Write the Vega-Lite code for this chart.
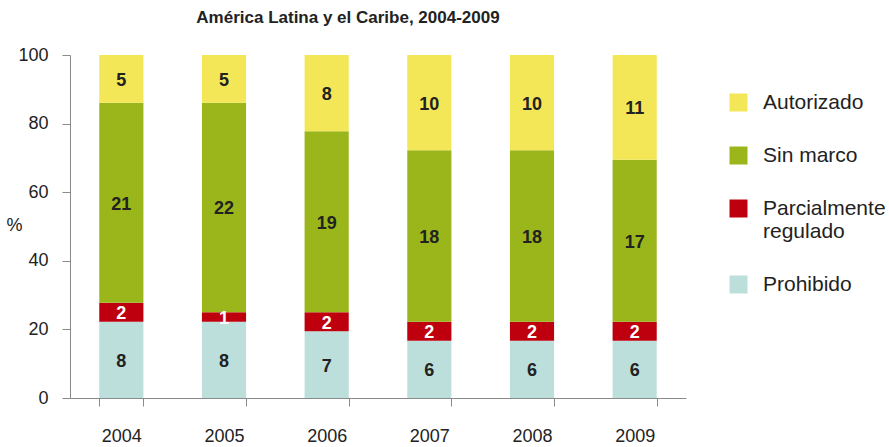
{
  "$schema": "https://vega.github.io/schema/vega-lite/v6.json",
  "width": 616,
  "height": 343,
  "autosize": {"type": "none"},
  "padding": {"left": 70, "top": 55, "right": 203, "bottom": 49},
  "background": "white",
  "config": {
    "view": {"stroke": null},
    "font": "Liberation Sans, Arial, sans-serif"
  },
  "title": {
    "text": "América Latina y el Caribe, 2004-2009",
    "fontSize": 17,
    "fontWeight": "bold",
    "color": "#222222",
    "anchor": "middle",
    "dx": -30,
    "offset": 19
  },
  "data": {
    "values": [
      {"year": "2004", "status": "Prohibido", "n": 8, "order": 1},
      {"year": "2004", "status": "Parcialmente regulado", "n": 2, "order": 2},
      {"year": "2004", "status": "Sin marco", "n": 21, "order": 3},
      {"year": "2004", "status": "Autorizado", "n": 5, "order": 4},
      {"year": "2005", "status": "Prohibido", "n": 8, "order": 1},
      {"year": "2005", "status": "Parcialmente regulado", "n": 1, "order": 2},
      {"year": "2005", "status": "Sin marco", "n": 22, "order": 3},
      {"year": "2005", "status": "Autorizado", "n": 5, "order": 4},
      {"year": "2006", "status": "Prohibido", "n": 7, "order": 1},
      {"year": "2006", "status": "Parcialmente regulado", "n": 2, "order": 2},
      {"year": "2006", "status": "Sin marco", "n": 19, "order": 3},
      {"year": "2006", "status": "Autorizado", "n": 8, "order": 4},
      {"year": "2007", "status": "Prohibido", "n": 6, "order": 1},
      {"year": "2007", "status": "Parcialmente regulado", "n": 2, "order": 2},
      {"year": "2007", "status": "Sin marco", "n": 18, "order": 3},
      {"year": "2007", "status": "Autorizado", "n": 10, "order": 4},
      {"year": "2008", "status": "Prohibido", "n": 6, "order": 1},
      {"year": "2008", "status": "Parcialmente regulado", "n": 2, "order": 2},
      {"year": "2008", "status": "Sin marco", "n": 18, "order": 3},
      {"year": "2008", "status": "Autorizado", "n": 10, "order": 4},
      {"year": "2009", "status": "Prohibido", "n": 6, "order": 1},
      {"year": "2009", "status": "Parcialmente regulado", "n": 2, "order": 2},
      {"year": "2009", "status": "Sin marco", "n": 17, "order": 3},
      {"year": "2009", "status": "Autorizado", "n": 11, "order": 4}
    ]
  },
  "transform": [
    {"stack": "n", "groupby": ["year"], "sort": [{"field": "order", "order": "ascending"}], "offset": "normalize", "as": ["y0", "y1"]},
    {"calculate": "(datum.y0 + datum.y1) / 2", "as": "ymid"}
  ],
  "encoding": {
    "x": {
      "field": "year",
      "type": "ordinal",
      "scale": {"paddingInner": 0.57, "paddingOuter": 0.285},
      "axis": {
        "title": null,
        "labelAngle": 0,
        "tickBand": "extent",
        "tickSize": 8,
        "labelFontSize": 18,
        "labelColor": "#222222",
        "labelPadding": 21,
        "domainColor": "#8a8a8a",
        "tickColor": "#8a8a8a"
      }
    }
  },
  "layer": [
    {
      "mark": {"type": "bar"},
      "encoding": {
        "y": {
          "field": "y0",
          "type": "quantitative",
          "scale": {"domain": [0, 1]},
          "axis": {
            "values": [0, 0.2, 0.4, 0.6, 0.8, 1],
            "labelExpr": "format(datum.value * 100, 'd')",
            "title": "%",
            "titleAngle": 0,
            "titleX": -56,
            "titleY": 170,
            "titleAlign": "center",
            "titleBaseline": "middle",
            "titleFontSize": 18,
            "titleFontWeight": "normal",
            "titleColor": "#222222",
            "grid": false,
            "tickSize": 8,
            "labelPadding": 14,
            "labelFontSize": 18,
            "labelColor": "#222222",
            "domainColor": "#8a8a8a",
            "tickColor": "#8a8a8a"
          }
        },
        "y2": {"field": "y1"},
        "color": {
          "field": "status",
          "type": "nominal",
          "scale": {
            "domain": ["Autorizado", "Sin marco", "Parcialmente regulado", "Prohibido"],
            "range": ["#F3E757", "#9BB61B", "#BE000E", "#BDDFDB"]
          },
          "legend": {
            "title": null,
            "orient": "none",
            "legendX": 658,
            "legendY": 37,
            "padding": 0,
            "symbolType": "square",
            "symbolSize": 324,
            "symbolStrokeWidth": 0,
            "labelFontSize": 21,
            "labelColor": "#222222",
            "rowPadding": 31,
            "labelOffset": 14,
            "labelLimit": 200,
            "labelExpr": "datum.label == 'Parcialmente regulado' ? ['Parcialmente', 'regulado'] : datum.label"
          }
        }
      }
    },
    {
      "mark": {"type": "text", "fontSize": 18, "fontWeight": "bold", "baseline": "middle", "dy": 2},
      "encoding": {
        "y": {"field": "ymid", "type": "quantitative"},
        "text": {"field": "n", "type": "quantitative"},
        "color": {
          "condition": {"test": "datum.status == 'Parcialmente regulado'", "value": "white"},
          "value": "#222222"
        }
      }
    }
  ]
}
